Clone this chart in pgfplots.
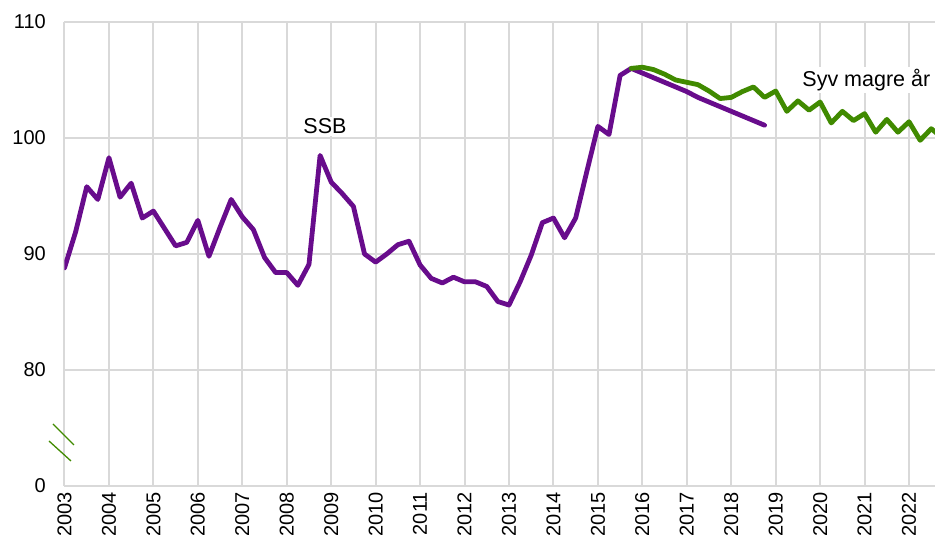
\documentclass[border=0pt]{standalone}
\usepackage{pgfplots}
\pgfplotsset{compat=1.18}
\usepackage{fontspec}
\setmainfont{Liberation Sans}
\definecolor{ssbpurple}{HTML}{680C8C}
\definecolor{syvgreen}{HTML}{408A00}
\definecolor{gridgrey}{HTML}{D9D9D9}
\begin{document}
\begin{tikzpicture}
\begin{axis}[
  scale only axis,
  width=870.5pt, height=464pt,
  xmin=2003, xmax=2022.584,
  ymin=70, ymax=110,
  axis x line*=bottom, axis y line*=left,
  axis line style={draw=none},
  tick style={draw=none},
  xmajorgrids, ymajorgrids,
  grid style={draw=gridgrey, line width=2pt},
  xtick={2003,2004,2005,2006,2007,2008,2009,2010,2011,2012,2013,2014,2015,2016,2017,2018,2019,2020,2021,2022},
  xticklabels={2003,2004,2005,2006,2007,2008,2009,2010,2011,2012,2013,2014,2015,2016,2017,2018,2019,2020,2021,2022},
  ytick={70,80,90,100,110},
  yticklabels={0,80,90,100,110},
  /pgf/number format/assume math mode=true,
  xticklabel style={rotate=90, anchor=east, inner sep=0pt, font=\fontsize{20}{24}\selectfont},
  yticklabel style={anchor=east, inner sep=0pt, font=\fontsize{20}{24}\selectfont},
  xticklabel shift=6pt,
  yticklabel shift=18.5pt,
]
\addplot[ssbpurple, line width=4.8pt, line join=round, line cap=round] coordinates {
(2003.00,88.8) (2003.25,91.9) (2003.50,95.8) (2003.75,94.7)
(2004.00,98.3) (2004.25,94.9) (2004.50,96.1) (2004.75,93.1)
(2005.00,93.7) (2005.25,92.2) (2005.50,90.7) (2005.75,91.0)
(2006.00,92.9) (2006.25,89.8) (2006.50,92.3) (2006.75,94.7)
(2007.00,93.2) (2007.25,92.1) (2007.50,89.7) (2007.75,88.4)
(2008.00,88.4) (2008.25,87.3) (2008.50,89.1) (2008.75,98.5)
(2009.00,96.2) (2009.25,95.2) (2009.50,94.1) (2009.75,90.0)
(2010.00,89.3) (2010.25,90.0) (2010.50,90.8) (2010.75,91.1)
(2011.00,89.05) (2011.25,87.9) (2011.50,87.5) (2011.75,88.0)
(2012.00,87.6) (2012.25,87.6) (2012.50,87.2) (2012.75,85.9)
(2013.00,85.6) (2013.25,87.6) (2013.50,89.9) (2013.75,92.7)
(2014.00,93.1) (2014.25,91.4) (2014.50,93.1) (2014.75,97.1)
(2015.00,101.0) (2015.25,100.3) (2015.50,105.4) (2015.75,106.0)
(2016.00,105.6) (2016.25,105.2) (2016.50,104.8) (2016.75,104.4)
(2017.00,104.0) (2017.25,103.5) (2017.50,103.1) (2017.75,102.7)
(2018.00,102.3) (2018.25,101.9) (2018.50,101.5) (2018.75,101.1)
};
\addplot[syvgreen, line width=4.8pt, line join=round, line cap=round] coordinates {
(2015.75,106.0)
(2016.00,106.1) (2016.25,105.9) (2016.50,105.5) (2016.75,105.0)
(2017.00,104.8) (2017.25,104.6) (2017.50,104.05) (2017.75,103.4)
(2018.00,103.5) (2018.25,104.0) (2018.50,104.4) (2018.75,103.5)
(2019.00,104.05) (2019.25,102.3) (2019.50,103.2) (2019.75,102.4)
(2020.00,103.1) (2020.25,101.3) (2020.50,102.3) (2020.75,101.5)
(2021.00,102.1) (2021.25,100.5) (2021.50,101.6) (2021.75,100.5)
(2022.00,101.4) (2022.25,99.8) (2022.50,100.8) (2022.75,100.0)
};
\node[fill=white, inner sep=2pt, font=\fontsize{21.5}{25}\selectfont] at (axis cs:2008.86,101.0) {SSB};
\node[fill=white, inner sep=2pt, font=\fontsize{21.5}{25}\selectfont] at (axis cs:2021.04,105.0) {Syv magre år};
\end{axis}
\draw[syvgreen, line width=1.3pt] (-11.5pt,62pt) -- (9.5pt,41pt);
\draw[syvgreen, line width=1.3pt] (-15.5pt,45pt) -- (6.5pt,25pt);
\pgfresetboundingbox
\path (-64.5pt,-51pt) rectangle (870.5pt,486pt);
\end{tikzpicture}
\end{document}
